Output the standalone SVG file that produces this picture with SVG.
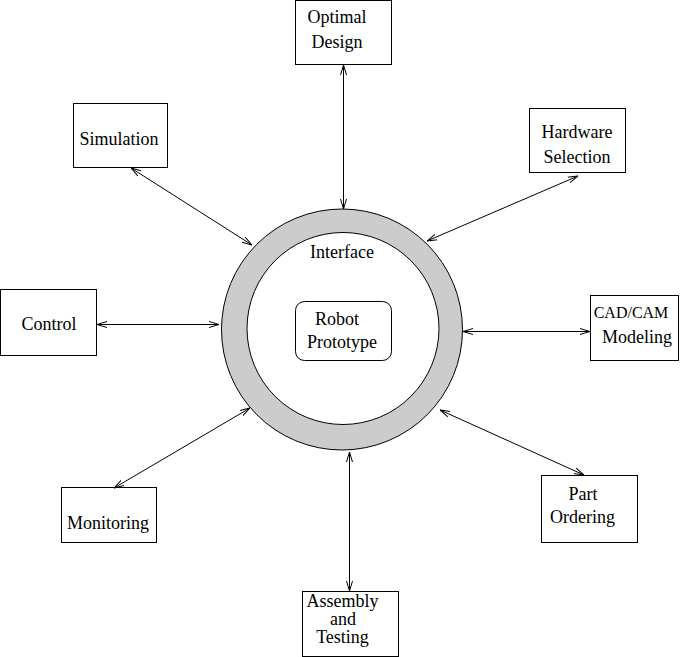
<svg xmlns="http://www.w3.org/2000/svg" width="687" height="657" viewBox="0 0 687 657">
<style>
.box{fill:#fff;stroke:#000;stroke-width:1}
.t{font-family:"Liberation Serif","Times New Roman",serif;font-size:18px;fill:#000;text-anchor:middle}
.s{font-size:16px}
.c{stroke:#000;stroke-width:1;fill:none;marker-start:url(#ah);marker-end:url(#ah)}
</style>
<defs>
<marker id="ah" viewBox="0 0 10 8" refX="10" refY="4" markerWidth="10" markerHeight="8" markerUnits="userSpaceOnUse" orient="auto-start-reverse">
<path d="M0,1 L10,4 L0,7" fill="none" stroke="#000" stroke-width="1"/>
</marker>
</defs>
<rect width="687" height="657" fill="#fff"/>
<g id="interface">
<circle cx="342" cy="329.5" r="120.5" fill="#cccccc" stroke="#000" stroke-width="1"/>
<circle cx="343" cy="328.5" r="96" fill="#fff" stroke="#000" stroke-width="1"/>
<text class="t" x="342" y="258">Interface</text>
</g>
<g id="robot">
<rect class="box" x="295.5" y="301.5" width="96" height="59" rx="9"/>
<text class="t" x="337" y="325">Robot</text>
<text class="t" x="342" y="348">Prototype</text>
</g>
<g id="optimal">
<rect class="box" x="295.5" y="0.5" width="96" height="64"/>
<text class="t" x="337" y="23">Optimal</text>
<text class="t" x="337" y="48">Design</text>
</g>
<g id="hardware">
<rect class="box" x="529.5" y="108.5" width="96" height="64"/>
<text class="t" x="577" y="138">Hardware</text>
<text class="t" x="577" y="163">Selection</text>
</g>
<g id="simulation">
<rect class="box" x="73.5" y="103.5" width="94" height="64"/>
<text class="t" x="119" y="145">Simulation</text>
</g>
<g id="control">
<rect class="box" x="0.5" y="289.5" width="96" height="66"/>
<text class="t" x="49" y="330">Control</text>
</g>
<g id="cadcam">
<rect class="box" x="590.5" y="295.5" width="88" height="65"/>
<text class="t s" x="631" y="318">CAD/CAM</text>
<text class="t" x="637" y="343">Modeling</text>
</g>
<g id="part">
<rect class="box" x="541.5" y="475.5" width="96" height="67"/>
<text class="t" x="583" y="500">Part</text>
<text class="t" x="582.5" y="523">Ordering</text>
</g>
<g id="monitoring">
<rect class="box" x="61.5" y="487.5" width="95" height="55"/>
<text class="t" x="108" y="529">Monitoring</text>
</g>
<g id="assembly">
<rect class="box" x="302.5" y="591.5" width="96" height="65"/>
<text class="t" x="342.5" y="607">Assembly</text>
<text class="t" x="343" y="625">and</text>
<text class="t" x="342.5" y="643">Testing</text>
</g>
<g id="connectors">
<line class="c" x1="343.5" y1="65" x2="343.5" y2="209"/>
<line class="c" x1="578" y1="176" x2="427" y2="241"/>
<line class="c" x1="131" y1="168" x2="252" y2="245"/>
<line class="c" x1="97" y1="324.5" x2="219" y2="324.5"/>
<line class="c" x1="463" y1="331.5" x2="590" y2="331.5"/>
<line class="c" x1="440" y1="410" x2="584" y2="475"/>
<line class="c" x1="114" y1="488" x2="250" y2="408"/>
<line class="c" x1="349.5" y1="452" x2="349.5" y2="591"/>
</g>
</svg>
